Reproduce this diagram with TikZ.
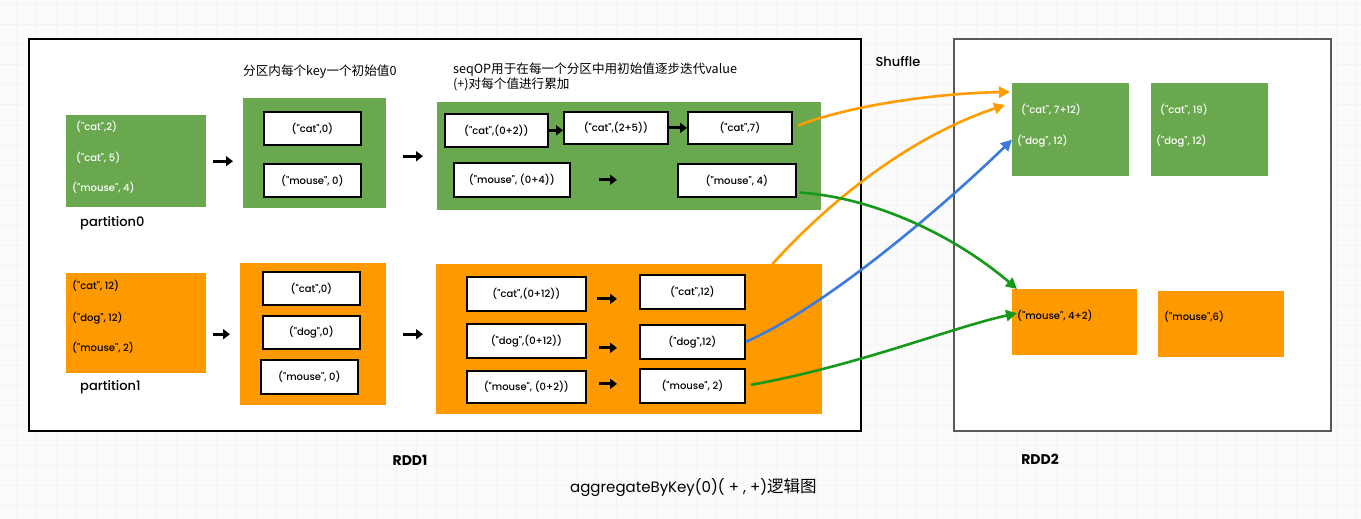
\documentclass[tikz,border=0pt]{standalone}
\usepackage{fontspec}
\setmainfont{Poppins}
\newfontfamily\medfont{Poppins Medium}
\newfontfamily\cjk{Noto Sans CJK SC}
\usetikzlibrary{arrows.meta}
\definecolor{boxgreen}{HTML}{6AA84F}
\definecolor{boxorange}{HTML}{FF9900}
\definecolor{lineorange}{HTML}{FF9C00}
\definecolor{lineblue}{HTML}{3B7BDD}
\definecolor{linegreen}{HTML}{16991B}
\begin{document}
\begin{tikzpicture}[x=1pt, y=-1pt,
    frame/.style={draw, fill=white, anchor=north west, inner sep=0pt},
    gbox/.style={fill=boxgreen, anchor=north west, inner sep=0pt},
    obox/.style={fill=boxorange, anchor=north west, inner sep=0pt},
    cell/.style={draw, fill=white, line width=1.7pt, anchor=north west, inner sep=0pt, font=\medfont\fontsize{10}{12}\selectfont},
    item/.style={anchor=west, inner sep=0pt, font=\medfont\fontsize{10}{12}\selectfont},
    blk/.style={line width=3pt, -{Triangle[length=7pt,width=10pt]}},
    flow/.style={line width=2.6pt, -{Triangle[length=11pt,width=11pt]}}]
        % background grid
        \useasboundingbox (0,0) rectangle (1361,519);
        \fill [gray!3] (0,0) rectangle (1361,519);
        \foreach \gx in {16,36,...,1356} \draw [gray!9, line width=1pt] (\gx,0) -- (\gx,519);
        \foreach \gy in {5,25,...,515} \draw [gray!9, line width=1pt] (0,\gy) -- (1361,\gy);
        % the two RDD frames
        \node [frame, line width=2.4pt, minimum width=832pt, minimum height=392pt] (rdd1) at (28,38) {};
        \node [frame, draw=black!65, line width=2pt, minimum width=377pt, minimum height=392pt] (rdd2) at (953,38) {};
        % partition0
        \node [gbox, minimum width=140pt, minimum height=92pt] (src0) at (66,115) {};
        \node [item, text=white] (src0a) at (76,127) {("cat",2)};
        \node [item, text=white] (src0b) at (76,158) {("cat", 5)};
        \node [item, text=white] (src0c) at (72,188) {("mouse", 4)};
        \node [anchor=west, inner sep=0pt, font=\medfont\fontsize{13}{15}\selectfont] (p0) at (80,223) {partition0};
        \node [gbox, minimum width=143pt, minimum height=110pt] (init0) at (243,98) {};
        \node [cell, minimum width=97pt, minimum height=33pt] (i0cat) at (263,111) {("cat",0)};
        \node [cell, minimum width=97pt, minimum height=33pt] (i0mouse) at (263,163) {("mouse", 0)};
        \node [gbox, minimum width=384pt, minimum height=108pt] (seq0) at (437,102) {};
        \node [cell, minimum width=103pt, minimum height=33pt] (s0a) at (444,113) {("cat",(0+2))};
        \node [cell, minimum width=104pt, minimum height=32pt] (s0b) at (563,111) {("cat",(2+5))};
        \node [cell, minimum width=104pt, minimum height=32pt] (s0c) at (687,111) {("cat",7)};
        \node [cell, minimum width=116pt, minimum height=34pt] (s0d) at (453,162) {("mouse", (0+4))};
        \node [cell, minimum width=118pt, minimum height=33pt] (s0e) at (677,163) {("mouse", 4)};
        \draw [blk, shorten <=7pt, shorten >=10pt] (src0.east) -- (src0.east -| init0.west);
        \draw [blk, shorten <=17pt, shorten >=14pt] (seq0.west -| init0.east) -- (seq0.west);
        \draw [blk] (s0a.east) -- (s0a.east -| s0b.west);
        \draw [blk] (s0b.east) -- (s0c.west);
        \draw [blk, shorten <=28pt, shorten >=60pt] (s0d.east) -- (s0d.east -| s0e.west);
        % partition1
        \node [obox, minimum width=140pt, minimum height=100pt] (src1) at (66,273) {};
        \node [item] (src1a) at (72,286) {("cat", 12)};
        \node [item] (src1b) at (72,318) {("dog", 12)};
        \node [item] (src1c) at (72,348) {("mouse", 2)};
        \node [anchor=west, inner sep=0pt, font=\medfont\fontsize{13}{15}\selectfont] (p1) at (80,387) {partition1};
        \node [obox, minimum width=146pt, minimum height=142pt] (init1) at (240,263) {};
        \node [cell, minimum width=97pt, minimum height=33pt] (i1cat) at (262,271) {("cat",0)};
        \node [cell, minimum width=97pt, minimum height=33pt] (i1dog) at (262,315) {("dog",0)};
        \node [cell, minimum width=97pt, minimum height=34pt] (i1mouse) at (260,359) {("mouse", 0)};
        \node [obox, minimum width=386pt, minimum height=150pt] (seq1) at (436,264) {};
        \node [cell, minimum width=119pt, minimum height=34pt] (s1a) at (466,276) {("cat",(0+12))};
        \node [cell, minimum width=105pt, minimum height=34pt] (s1b) at (639,274) {("cat",12)};
        \node [cell, minimum width=119pt, minimum height=34pt] (s1c) at (466,323) {("dog",(0+12))};
        \node [cell, minimum width=105pt, minimum height=34pt] (s1d) at (639,324) {("dog",12)};
        \node [cell, minimum width=119pt, minimum height=32pt] (s1e) at (466,370) {("mouse", (0+2))};
        \node [cell, minimum width=105pt, minimum height=34pt] (s1f) at (639,368) {("mouse", 2)};
        \draw [blk, shorten <=7pt, shorten >=10pt] (init1.west -| src1.east) -- (init1.west);
        \draw [blk, shorten <=17pt, shorten >=13pt] (init1.east) -- (init1.east -| seq1.west);
        \draw [blk, shorten <=10pt, shorten >=22pt] ([yshift=-5pt]s1a.east) -- ([yshift=-5pt]s1a.east -| s1b.west);
        \draw [blk, shorten <=12pt, shorten >=22pt] ([yshift=-7pt]s1c.east) -- ([yshift=-7pt]s1c.east -| s1d.west);
        \draw [blk, shorten <=12pt, shorten >=22pt] ([yshift=3pt]s1e.east) -- ([yshift=3pt]s1e.east -| s1f.west);
        % labels
        \node [anchor=west, inner sep=0pt, font=\cjk\fontsize{12.6}{15}\selectfont] (initlbl) at (243,72) {分区内每个key一个初始值0};
        \node [anchor=north west, inner sep=0pt, align=left, font=\cjk\fontsize{12.6}{14.5}\selectfont] (seqlbl) at (453,63) {seqOP用于在每一个分区中用初始值逐步迭代value\\(+)对每个值进行累加};
        \node [font=\medfont\fontsize{13}{15}\selectfont] (shuf) at (898,62) {Shuffle};
        \node [font=\bfseries\fontsize{14}{16}\selectfont] (r1lbl) at (410,460) {RDD1};
        \node [font=\bfseries\fontsize{14}{16}\selectfont] (r2lbl) at (1040,459) {RDD2};
        \node [anchor=west, inner sep=0pt, font=\fontsize{15}{17}\selectfont] (title) at (570,488) {aggregateByKey(0)( + , +){\cjk\fontsize{16.5}{18}\selectfont 逻辑图}};
        % RDD2
        \node [gbox, minimum width=117pt, minimum height=93pt] (out0a) at (1012,83) {};
        \node [item, text=white] (out0a1) at (1021,110) {("cat", 7+12)};
        \node [item, text=white] (out0a2) at (1017,141) {("dog", 12)};
        \node [gbox, minimum width=117pt, minimum height=93pt] (out0b) at (1151,83) {};
        \node [item, text=white] (out0b1) at (1160,110) {("cat", 19)};
        \node [item, text=white] (out0b2) at (1156,141) {("dog", 12)};
        \node [obox, minimum width=125pt, minimum height=66pt] (out1a) at (1012,289) {};
        \node [item] (out1a1) at (1017,316) {("mouse", 4+2)};
        \node [obox, minimum width=126pt, minimum height=66pt] (out1b) at (1158,291) {};
        \node [item] (out1b1) at (1164,317) {("mouse",6)};
        % shuffle lines
        \draw [flow, lineorange, shorten <=6pt] (s0c.east) .. controls (850,105) and (940,93) .. ([shift={(-2pt,-9pt)}]out0a.north west);
        \draw [flow, lineorange] ([xshift=-50pt]seq1.north east) .. controls (835,195) and (915,135) .. ([shift={(-7pt,-22pt)}]out0a.north west);
        \draw [flow, lineblue] (s1d.east) .. controls (830,305) and (950,200) .. ([yshift=-10pt]out0a.west);
        \draw [flow, linegreen, shorten <=3pt] ([yshift=-12pt]s0e.east) .. controls (880,198) and (960,240) .. ([xshift=5pt]out1a.north west);
        \draw [flow, linegreen, shorten <=5pt] (s1f.east) .. controls (860,365) and (950,328) .. ([shift={(5pt,9pt)}]out1a.west);
    \end{tikzpicture}
\end{document}
